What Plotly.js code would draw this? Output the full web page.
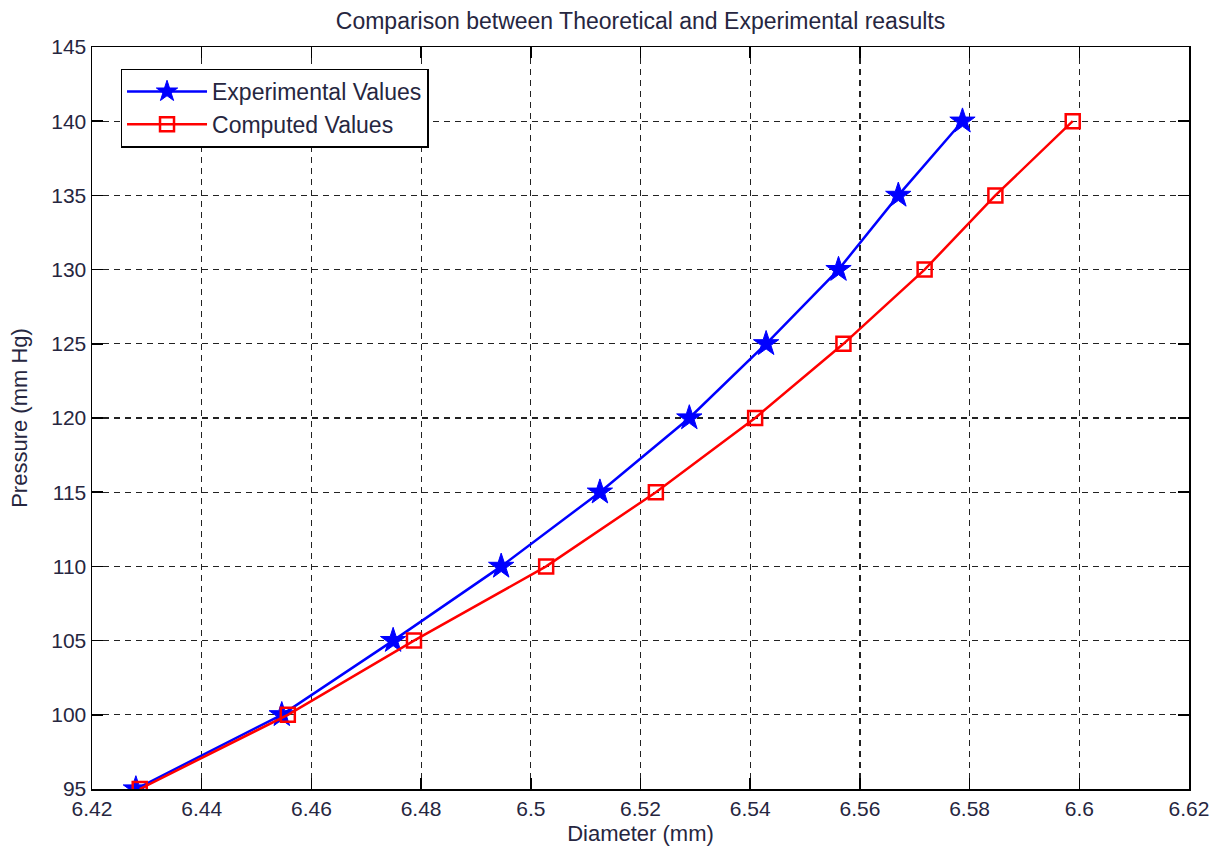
<!DOCTYPE html>
<html>
<head>
<meta charset="utf-8">
<script src="https://cdn.plot.ly/plotly-3.0.1.min.js"></script>
<style>html,body{margin:0;padding:0;background:#fff;}#chart{width:1222px;height:855px;}</style>
</head>
<body>
<div id="chart"></div>
<script>
const pressure = [95, 100, 105, 110, 115, 120, 125, 130, 135, 140];
const experimentalDiameter = [6.428, 6.4546, 6.4749, 6.4946, 6.5126, 6.5289, 6.5429, 6.5561, 6.567, 6.5787];
const computedDiameter = [6.4287, 6.4557, 6.4787, 6.5028, 6.5228, 6.5409, 6.557, 6.5718, 6.5847, 6.5988];
const xTicks = [6.42, 6.44, 6.46, 6.48, 6.5, 6.52, 6.54, 6.56, 6.58, 6.6, 6.62];
const xTickText = ["6.42", "6.44", "6.46", "6.48", "6.5", "6.52", "6.54", "6.56", "6.58", "6.6", "6.62"];
const yTicks = [95, 100, 105, 110, 115, 120, 125, 130, 135, 140, 145];

const font = "Arial, 'Liberation Sans', sans-serif";
const textColor = "#262640";

const traces = [
  {
    x: experimentalDiameter, y: pressure, name: "Experimental Values",
    mode: "lines+markers", type: "scatter",
    line: {color: "#0000ff", width: 2.5},
    marker: {symbol: "star", size: 19, color: "#0000ff", line: {color: "#0000ff", width: 1}}
  },
  {
    x: computedDiameter, y: pressure, name: "Computed Values",
    mode: "lines+markers", type: "scatter",
    line: {color: "#ff0000", width: 2.5},
    marker: {symbol: "square-open", size: 14, color: "#ff0000", line: {color: "#ff0000", width: 2.5}}
  }
];

const axisCommon = {
  showline: true, mirror: "ticks", linecolor: "#000", linewidth: 1.5,
  ticks: "inside", ticklen: 11, tickcolor: "#000", tickwidth: 1.5,
  showgrid: true, gridcolor: "#222", griddash: "6px,5px", gridwidth: 1.2,
  zeroline: false, tickfont: {family: font, size: 21, color: textColor},
  tickmode: "array"
};

const layout = {
  width: 1222, height: 855,
  margin: {l: 92, r: 33, t: 47, b: 66},
  paper_bgcolor: "#fff", plot_bgcolor: "#fff",
  title: {text: "Comparison between Theoretical and Experimental reasults", font: {family: font, size: 23, color: textColor}, xref: "paper", x: 0.5, xanchor: "center", yref: "container", y: 0.975, yanchor: "middle"},
  xaxis: Object.assign({}, axisCommon, {
    range: [6.42, 6.62], tickvals: xTicks, ticktext: xTickText,
    title: {text: "Diameter (mm)", font: {family: font, size: 22, color: textColor}, standoff: 7}
  }),
  yaxis: Object.assign({}, axisCommon, {
    range: [95, 145], tickvals: yTicks, ticktext: yTicks.map(String),
    title: {text: "Pressure (mm Hg)", font: {family: font, size: 22, color: textColor}, standoff: 17}
  }),
  showlegend: true,
  legend: {
    x: 0.026, y: 0.971, xanchor: "left", yanchor: "top",
    bgcolor: "#fff", bordercolor: "#000", borderwidth: 1.5,
    font: {family: font, size: 23, color: textColor},
    itemwidth: 80, tracegroupgap: 0
  }
};

Plotly.newPlot("chart", traces, layout, {displayModeBar: false, staticPlot: true});
</script>
</body>
</html>
